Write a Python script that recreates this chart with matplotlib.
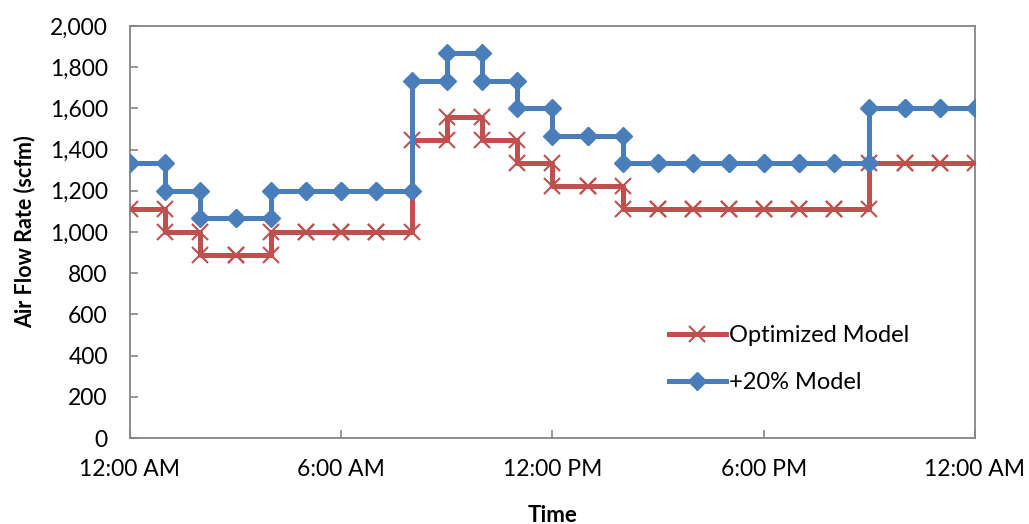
import matplotlib
matplotlib.use("Agg")
import matplotlib.pyplot as plt
from matplotlib.ticker import FuncFormatter, MultipleLocator

# Hourly air flow rate (scfm); each value holds from hour h to hour h+1
hours = list(range(24))
optimized = [1111, 1000, 889, 889, 1000, 1000, 1000, 1000, 1444, 1556, 1444, 1333,
             1222, 1222, 1111, 1111, 1111, 1111, 1111, 1111, 1111, 1333, 1333, 1333]
plus20 = [1333, 1200, 1067, 1067, 1200, 1200, 1200, 1200, 1733, 1867, 1733, 1600,
          1467, 1467, 1333, 1333, 1333, 1333, 1333, 1333, 1333, 1600, 1600, 1600]
tick_hours = [0, 6, 12, 18, 24]
tick_labels = ["12:00 AM", "6:00 AM", "12:00 PM", "6:00 PM", "12:00 AM"]


def step_points(h, v):
    xs, ys = [], []
    for hh, vv in zip(h, v):
        xs += [hh, hh + 1]
        ys += [vv, vv]
    return xs, ys


plt.rcParams['font.family'] = ['Lato', 'DejaVu Sans']

fig = plt.figure(figsize=(10.29, 5.24), dpi=100)
ax = fig.add_axes([0.1263, 0.164, 0.8212, 0.7866])

red = "#C0504D"
blue = "#4A7EBB"

xr, yr = step_points(hours, optimized)
xb, yb = step_points(hours, plus20)
ax.plot(xr, yr, color=red, lw=3.6, marker="x", ms=12, mew=1.5,
        mec=red, label="Optimized Model", zorder=3)
ax.plot(xb, yb, color=blue, lw=3.6, marker="D", ms=9.5, mew=1,
        mec=blue, mfc=blue, label="+20% Model", zorder=4)

ax.set_xlim(0, 24)
ax.set_ylim(0, 2000)
ax.yaxis.set_major_locator(MultipleLocator(200))
ax.yaxis.set_major_formatter(FuncFormatter(lambda v, p: f"{int(v):,}"))
ax.set_xticks(tick_hours)
ax.set_xticklabels(tick_labels)

for s in ax.spines.values():
    s.set_color("#868686")
    s.set_linewidth(1.3)
ax.tick_params(axis="both", direction="in", length=6, width=1.2,
               color="#868686", labelsize=16.5, labelcolor="black")
ax.tick_params(axis="x", pad=15)
ax.tick_params(axis="y", pad=16)

ax.set_xlabel("Time", fontsize=16, fontweight="bold", labelpad=18)
ax.set_ylabel("Air Flow Rate (scfm)", fontsize=15.5, fontweight="bold", labelpad=10)

leg = ax.legend(loc="center left", bbox_to_anchor=(0.650, 0.315),
                bbox_transform=fig.transFigure, frameon=False,
                fontsize=17, handlelength=2.4, handletextpad=0.15,
                labelspacing=1.1, borderaxespad=0, borderpad=0)

fig.savefig("out.png", dpi=100)
